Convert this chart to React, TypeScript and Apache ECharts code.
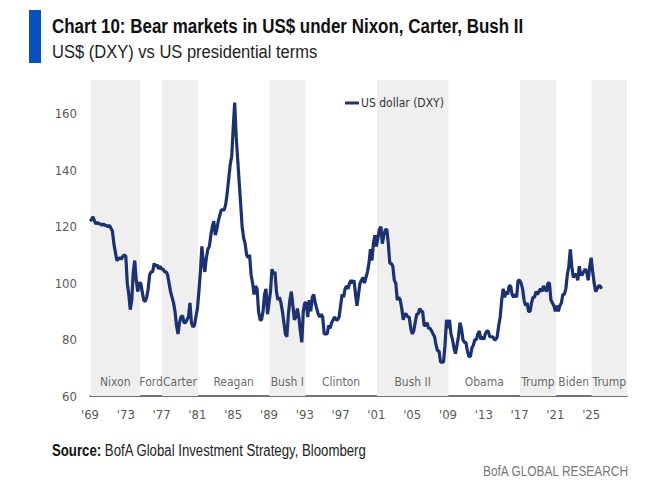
import React, { useEffect, useRef } from 'react';
import * as echarts from 'echarts';

// DXY, one value every two months (Jan, Mar, May, Jul, Sep, Nov)
const dxyStartYear = 1969;
const stepsPerYear = 6;
const dxy = [
  122, 122.5, 123.5, 122, 121, 121.5, // 1969
  121, 121, 120.5, 121, 120.5, 120.5, // 1970
  120, 120.5, 119.5, 118.5, 114, 111, // 1971
  108, 108.5, 109, 108.5, 109.5, 110, // 1972
  109.5, 100, 96, 90.6, 94, 104, // 1973
  108, 101, 97, 100, 100, 97, // 1974
  94, 93.5, 95, 98, 103, 104, // 1975
  104, 107, 106, 106.5, 105, 106, // 1976
  105, 105, 104, 104, 103, 100, // 1977
  97, 95, 93, 90, 85, 82, // 1978
  86, 88, 88.5, 86, 86, 87, // 1979
  88, 93, 86, 84.5, 85, 88, // 1980
  91, 97, 104, 113, 107, 104, // 1981
  109, 112, 113, 117, 120, 122, // 1982
  117, 119, 122, 124, 126, 126, // 1983
  126, 128, 132, 137, 142, 145, // 1984
  155, 164, 152, 144, 136, 128, // 1985
  120, 116, 114, 110, 109, 110, // 1986
  103, 100, 96, 99, 98, 90, // 1987
  87, 87, 90, 96, 98, 89, // 1988
  93, 97, 105, 103, 104, 97, // 1989
  94, 95, 93, 90, 86, 82, // 1990
  81, 89, 94, 97, 92, 87, // 1991
  88, 91, 88, 83, 79, 90, // 1992
  93, 93, 88, 94, 90, 95, // 1993
  96, 93, 91, 89, 88, 89, // 1994
  88, 82, 82, 82, 85, 84, // 1995
  86, 87, 88, 87, 87, 88, // 1996
  92, 96, 95, 98, 99, 98, // 1997
  100, 101, 100, 101, 96, 92, // 1998
  96, 100, 101, 102, 100, 102, // 1999
  104, 107, 112, 108, 114, 117, // 2000
  113, 116, 119, 120, 114, 117, // 2001
  119, 119, 114, 107, 107, 106, // 2002
  101, 100, 94, 95, 94, 91, // 2003
  87, 89, 89, 88, 88, 84, // 2004
  82, 83, 86, 89, 89, 91, // 2005
  90, 90, 85, 85, 86, 84, // 2006
  84, 83, 82, 81, 78, 76, // 2007
  76, 72, 72, 72, 78, 87, // 2008
  84, 87, 82, 80, 77, 75, // 2009
  78, 81, 86, 84, 80, 79, // 2010
  79, 76, 74, 74, 77, 78, // 2011
  80, 80, 82, 83, 80, 81, // 2012
  80, 82, 83, 83, 81, 81, // 2013
  81, 80, 80, 81, 85, 88, // 2014
  94, 98, 95, 97, 96, 99, // 2015
  99, 96, 95, 96, 95, 101, // 2016
  101, 100, 98, 94, 92, 93, // 2017
  90, 90, 93, 95, 95, 97, // 2018
  96, 97, 98, 97, 99, 98, // 2019
  97, 100, 100, 94, 93, 92, // 2020
  90, 92, 90, 92, 93, 96, // 2021
  96, 98, 103, 106, 112, 106, // 2022
  102, 103, 103, 101, 106, 103, // 2023
  103, 104, 105, 104, 101, 106, // 2024
  109, 104, 100, 97, 98, 99, // 2025
  99, 98, // 2026
];

const presidents = ['Nixon', 'Ford', 'Carter', 'Reagan', 'Bush I', 'Clinton', 'Bush II', 'Obama', 'Trump', 'Biden', 'Trump'];
const termStarts = [1969.05, 1974.6, 1977.05, 1981.05, 1989.05, 1993.05, 2001.05, 2009.05, 2017.05, 2021.05, 2025.05];
const termEnds = [1974.6, 1977.05, 1981.05, 1989.05, 1993.05, 2001.05, 2009.05, 2017.05, 2021.05, 2025.05, 2029];
const shaded = [true, false, true, false, true, false, true, false, true, false, true];

const SANS = '"Liberation Sans Narrow", "DejaVu Sans Condensed", "Liberation Sans", sans-serif';
const REG = '"Liberation Sans", "DejaVu Sans", sans-serif';

export default function App() {
  const elRef = useRef<HTMLDivElement | null>(null);

  useEffect(() => {
    if (!elRef.current) return;
    const chart = echarts.init(elRef.current, undefined, { renderer: 'svg' });

    const lineData = dxy.map((v, i) => [dxyStartYear + i / stepsPerYear, v]);
    const bands = presidents
      .map((_, i) => i)
      .filter((i) => shaded[i])
      .map((i) => [{ xAxis: termStarts[i] }, { xAxis: termEnds[i] }]);
    const nameData = presidents.map((p, i) => [(termStarts[i] + termEnds[i]) / 2, 65, p]);

    const opt: echarts.EChartsOption = {
      animation: false,
      grid: { left: 90, right: 41, top: 80, bottom: 96 },
      legend: {
        data: ['US dollar (DXY)'],
        left: 340,
        top: 92,
        icon: 'rect',
        itemWidth: 14,
        itemHeight: 3,
        itemGap: 4,
        textStyle: { fontSize: 12, color: '#333', fontFamily: SANS, padding: [0, 0, 0, -3] },
      },
      xAxis: {
        type: 'value',
        min: 1969,
        max: 2029,
        interval: 4,
        axisLine: { lineStyle: { color: '#444', width: 1.5 } },
        axisTick: { show: false },
        splitLine: { show: false },
        axisLabel: {
          color: '#595959',
          fontSize: 13,
          fontFamily: SANS,
          margin: 12,
          formatter: (v: number) => (v >= 2029 ? '' : "'" + String(v).slice(2)),
        },
      },
      yAxis: {
        type: 'value',
        min: 60,
        max: 172,
        interval: 20,
        axisLine: { show: false },
        axisTick: { show: false },
        splitLine: { show: false },
        axisLabel: {
          color: '#595959',
          fontSize: 13,
          fontFamily: SANS,
          margin: 13,
          formatter: (v: number) => (v > 160 ? '' : String(v)),
        },
      },
      series: [
        {
          name: 'US dollar (DXY)',
          type: 'line',
          data: lineData,
          showSymbol: false,
          lineStyle: { color: '#1c3170', width: 3.2 },
          itemStyle: { color: '#1c3170' },
          z: 3,
          markArea: {
            silent: true,
            itemStyle: { color: '#efefef' },
            data: bands as any,
          },
        },
        {
          name: 'terms',
          type: 'scatter',
          data: nameData,
          symbolSize: 1,
          itemStyle: { color: 'rgba(0,0,0,0)' },
          silent: true,
          z: 4,
          label: {
            show: true,
            position: 'inside',
            color: '#404040',
            fontSize: 12,
            fontFamily: SANS,
            formatter: (p: any) => p.value[2],
          },
        },
      ],
      graphic: [
        { type: 'rect', shape: { x: 29, y: 10, width: 12, height: 53 }, style: { fill: '#0a4fbf' } },
        {
          type: 'text',
          x: 52,
          y: 26,
          scaleX: 0.808,
          style: {
            text: 'Chart 10: Bear markets in US$ under Nixon, Carter, Bush II',
            fontSize: 21,
            fontWeight: 'bold',
            fontFamily: REG,
            fill: '#111',
            verticalAlign: 'middle',
          },
        },
        {
          type: 'text',
          x: 52,
          y: 52,
          scaleX: 0.87,
          style: {
            text: 'US$ (DXY) vs US presidential terms',
            fontSize: 19,
            fontFamily: REG,
            fill: '#222',
            verticalAlign: 'middle',
          },
        },
        {
          type: 'text',
          x: 52,
          y: 451,
          scaleX: 0.826,
          style: {
            text: '{b|Source:} BofA Global Investment Strategy, Bloomberg',
            fontSize: 16,
            fontFamily: REG,
            fill: '#222',
            verticalAlign: 'middle',
            rich: { b: { fontWeight: 'bold', fontSize: 16, fontFamily: REG, fill: '#111' } } as any,
          } as any,
        },
        {
          type: 'text',
          x: 483,
          y: 471,
          scaleX: 0.85,
          style: {
            text: 'BofA GLOBAL RESEARCH',
            fontSize: 14,
            fontFamily: REG,
            fill: '#777',
            verticalAlign: 'middle',
          },
        },
      ],
    };

    chart.setOption(opt);
    return () => chart.dispose();
  }, []);

  return (
    <div
      ref={elRef}
      style={{ position: 'fixed', left: 0, top: 0, width: 668, height: 492, background: '#fff' }}
    />
  );
}
